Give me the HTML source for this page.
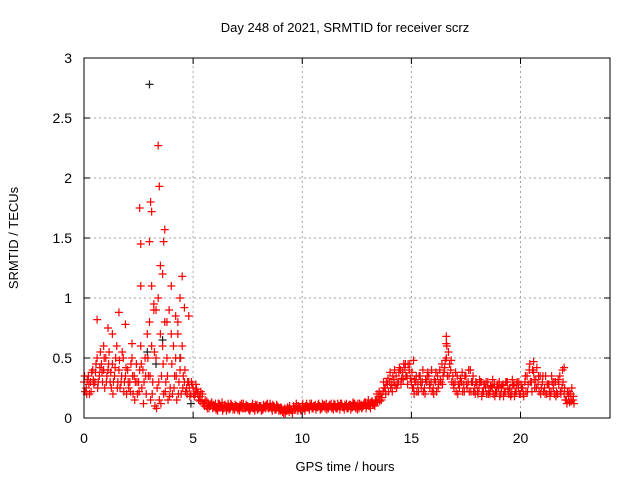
<!DOCTYPE html>
<html><head><meta charset="utf-8"><style>
body{margin:0;background:#fff}
svg{display:block;font-family:"Liberation Sans",sans-serif;font-size:13px}
</style></head><body>
<svg id="chart" width="640" height="480" viewBox="0 0 640 480">
<text x="345" y="32" text-anchor="middle" fill="#000">Day 248 of 2021, SRMTID for receiver scrz</text>
<text x="345" y="471" text-anchor="middle" fill="#000">GPS time / hours</text>
<text transform="translate(18,238) rotate(-90)" text-anchor="middle" fill="#000">SRMTID / TECUs</text>
<g id="grid"></g><g id="ticks"></g><g id="marks"></g>
<rect x="84" y="58" width="526" height="360" fill="none" stroke="#000" stroke-width="1"/>
</svg>
<script>
const tStart = 0, tStep = 0.1;
const seriesA = [0.3,0.25,0.35,0.3,0.4,0.3,0.5,0.35,0.45,0.4,
0.5,0.4,0.3,0.45,0.35,0.6,0.4,0.3,0.5,0.35,
0.4,0.3,0.5,0.35,0.45,0.3,0.6,0.4,0.5,0.7,
0.8,0.6,0.9,0.5,1.0,0.7,0.6,0.8,0.5,0.9,
0.7,0.6,0.5,0.8,0.4,0.6,0.3,0.25,0.3,0.2,
0.25,0.2,0.2,0.18,0.15,0.12,0.1,0.12,0.1,0.08,
0.1,0.08,0.12,0.1,0.08,0.1,0.12,0.08,0.1,0.07,
0.1,0.08,0.1,0.12,0.08,0.1,0.06,0.1,0.08,0.1,
0.08,0.1,0.07,0.1,0.12,0.09,0.08,0.1,0.07,0.09,
0.06,0.05,0.08,0.06,0.05,0.07,0.1,0.08,0.06,0.09,
0.1,0.08,0.12,0.09,0.1,0.08,0.11,0.09,0.1,0.08,
0.1,0.12,0.08,0.1,0.09,0.11,0.08,0.1,0.12,0.09,
0.1,0.08,0.11,0.09,0.12,0.1,0.08,0.11,0.1,0.13,
0.12,0.1,0.14,0.12,0.15,0.18,0.2,0.22,0.25,0.28,
0.3,0.28,0.32,0.35,0.3,0.4,0.38,0.42,0.35,0.4,
0.3,0.25,0.3,0.28,0.35,0.3,0.25,0.3,0.35,0.3,
0.25,0.3,0.35,0.4,0.45,0.38,0.5,0.55,0.4,0.35,
0.3,0.35,0.25,0.3,0.28,0.35,0.3,0.4,0.3,0.25,
0.28,0.25,0.3,0.22,0.25,0.3,0.2,0.25,0.28,0.22,
0.25,0.2,0.28,0.22,0.3,0.25,0.2,0.28,0.22,0.25,
0.2,0.25,0.3,0.35,0.4,0.3,0.38,0.32,0.28,0.35,
0.3,0.25,0.2,0.28,0.22,0.25,0.3,0.2,0.35,0.25,
0.2,0.15,0.18,0.2,0.15];
const seriesB = [0.22,0.32,0.2,0.38,0.28,0.45,0.3,0.55,0.3,0.25,
0.35,0.55,0.25,0.3,0.5,0.3,0.25,0.55,0.3,0.2,
0.25,0.45,0.2,0.3,0.2,0.4,0.25,0.3,0.2,0.35,
0.15,0.3,0.1,0.25,0.15,0.35,0.2,0.3,0.15,0.25,
0.2,0.35,0.15,0.3,0.2,0.35,0.22,0.3,0.18,0.28,
0.18,0.24,0.15,0.22,0.12,0.15,0.08,0.1,0.13,0.1,
0.07,0.12,0.09,0.06,0.11,0.08,0.07,0.11,0.09,0.1,
0.07,0.11,0.08,0.09,0.1,0.07,0.09,0.08,0.11,0.07,
0.1,0.07,0.09,0.11,0.08,0.1,0.11,0.07,0.1,0.08,
0.08,0.04,0.06,0.08,0.07,0.04,0.08,0.1,0.08,0.06,
0.08,0.1,0.09,0.12,0.08,0.1,0.09,0.12,0.08,0.11,
0.08,0.09,0.11,0.08,0.12,0.08,0.1,0.12,0.09,0.11,
0.08,0.11,0.09,0.12,0.08,0.12,0.1,0.09,0.13,0.1,
0.1,0.13,0.11,0.15,0.13,0.14,0.17,0.25,0.3,0.22,
0.25,0.35,0.27,0.28,0.42,0.33,0.45,0.35,0.45,0.33,
0.25,0.32,0.22,0.35,0.25,0.22,0.32,0.38,0.25,0.22,
0.32,0.22,0.28,0.3,0.35,0.48,0.35,0.45,0.3,0.25,
0.22,0.28,0.33,0.22,0.35,0.25,0.22,0.3,0.22,0.3,
0.2,0.3,0.22,0.28,0.2,0.22,0.27,0.2,0.22,0.28,
0.18,0.27,0.22,0.3,0.2,0.18,0.27,0.22,0.3,0.2,
0.25,0.18,0.22,0.28,0.3,0.4,0.25,0.42,0.22,0.25,
0.22,0.35,0.28,0.18,0.3,0.2,0.22,0.28,0.2,0.3,
0.15,0.22,0.13,0.25,0.12];
const seriesC = [0.35,0.2,0.28,0.22,0.32,0.38,0.25,0.42,0.38,0.5,
0.3,0.45,0.38,0.2,0.42,0.25,0.48,0.35,0.22,0.42,
0.3,0.22,0.35,0.15,0.3,0.22,0.45,0.12,0.35,0.5,
0.35,0.2,0.55,0.08,0.3,0.12,0.45,0.22,0.35,0.18,
0.45,0.25,0.35,0.2,0.5,0.25,0.4,0.2,0.25,0.3,
0.2,0.28,0.22,0.14,0.2,0.1,0.14,0.08,0.12,0.11,
0.12,0.06,0.1,0.13,0.09,0.06,0.1,0.12,0.07,0.11,
0.09,0.06,0.12,0.08,0.11,0.09,0.08,0.12,0.06,0.11,
0.1,0.06,0.11,0.08,0.09,0.12,0.06,0.09,0.11,0.06,
0.09,0.07,0.04,0.09,0.1,0.06,0.07,0.12,0.1,0.07,
0.12,0.06,0.1,0.07,0.12,0.1,0.07,0.11,0.07,0.12,
0.11,0.07,0.1,0.12,0.07,0.09,0.12,0.07,0.1,0.07,
0.12,0.1,0.07,0.13,0.1,0.07,0.12,0.08,0.12,0.08,
0.15,0.08,0.12,0.1,0.2,0.22,0.15,0.3,0.2,0.33,
0.38,0.22,0.4,0.25,0.38,0.28,0.32,0.45,0.28,0.45,
0.38,0.2,0.35,0.22,0.3,0.4,0.2,0.35,0.28,0.4,
0.2,0.38,0.25,0.32,0.28,0.42,0.6,0.35,0.48,0.28,
0.38,0.2,0.3,0.38,0.22,0.28,0.4,0.22,0.35,0.2,
0.22,0.32,0.18,0.28,0.3,0.2,0.26,0.32,0.18,0.26,
0.3,0.25,0.18,0.3,0.24,0.2,0.32,0.18,0.28,0.3,
0.28,0.2,0.35,0.22,0.45,0.22,0.32,0.25,0.35,0.2,
0.35,0.2,0.28,0.22,0.35,0.3,0.18,0.32,0.22,0.4,
0.25,0.12,0.22,0.14,0.18];
const spikeT = [3.4,3.45,3.05,3.1,2.55,2.6,3.7,3.65,3.5,3.6,4.0,4.5,4.4,3.0,3.1,2.6,3.2,1.6,0.6,1.1,4.8,4.3,3.8,16.6,16.6,15.1,20.6,22.0,1.3,0.9,2.2,1.9,3.3,4.6,4.2];
const spikeV = [2.27,1.93,1.8,1.72,1.75,1.45,1.57,1.47,1.27,1.2,1.1,1.18,1.0,1.47,1.1,1.1,0.95,0.88,0.82,0.75,0.85,0.7,0.8,0.68,0.62,0.48,0.47,0.42,0.7,0.6,0.62,0.78,0.9,0.92,0.85];
const darkT = [3.0,3.3,4.4,3.6,2.9,4.9];
const darkV = [2.78,0.45,0.5,0.65,0.55,0.12];
const xTicks = [0,5,10,15,20];
const yTicks = [0,0.5,1,1.5,2,2.5,3];
const yTickLabels = ["0","0.5","1","1.5","2","2.5","3"];

const X0=84,X1=610,Y0=418,Y1=58,XMAX=24.1,YMAX=3;
const xs = t => X0 + t/XMAX*(X1-X0);
const ys = v => Y0 - v/YMAX*(Y0-Y1);
const NS="http://www.w3.org/2000/svg";
const grid=document.getElementById('grid'), ticks=document.getElementById('ticks'), marks=document.getElementById('marks');
function mk(tag,attrs,parent){const e=document.createElementNS(NS,tag);for(const k in attrs)e.setAttribute(k,attrs[k]);parent.appendChild(e);return e;}
yTicks.forEach((v,i)=>{
  const y=ys(v);
  if(v>0&&v<YMAX){const g=mk('line',{x1:X0,x2:X1,y1:y,y2:y,stroke:'#a0a0a0','stroke-dasharray':'2,3'},grid);
  
  }
  mk('line',{x1:X0,x2:X0+6,y1:y,y2:y,stroke:'#000'},ticks);
  mk('line',{x1:X1,x2:X1-6,y1:y,y2:y,stroke:'#000'},ticks);
  const t=mk('text',{x:X0-12,y:y+5,'text-anchor':'end',fill:'#000','font-size':'14'},ticks);
  t.textContent=yTickLabels[i];
  
  
});
xTicks.forEach(v=>{
  const x=xs(v);
  if(v>0){const g=mk('line',{x1:x,x2:x,y1:Y0,y2:Y1,stroke:'#a0a0a0','stroke-dasharray':'2,3'},grid);
  
  }
  mk('line',{x1:x,x2:x,y1:Y0,y2:Y0-6,stroke:'#000'},ticks);
  mk('line',{x1:x,x2:x,y1:Y1,y2:Y1+6,stroke:'#000'},ticks);
  const t=mk('text',{x:x,y:Y0+25,'text-anchor':'middle',fill:'#000','font-size':'14'},ticks);
  t.textContent=String(v);
  
  
});
function plus(t,v,color){
  const x=xs(t),y=ys(v);
  const p=mk('path',{d:`M${x-4},${y}H${x+4}M${x},${y-4}V${y+4}`,stroke:color,'stroke-width':'1.2',fill:'none'},marks);
  
  
}
darkT.forEach((t,i)=>plus(t,darkV[i],'#222'));
seriesA.forEach((v,i)=>plus(tStart+i*tStep,v,'#ff0000'));
seriesB.forEach((v,i)=>plus(tStart+i*tStep+0.05,v,'#ff0000'));
seriesC.forEach((v,i)=>plus(tStart+i*tStep+0.025,v,'#ff0000'));
spikeT.forEach((t,i)=>plus(t,spikeV[i],'#ff0000'));
</script>
</body></html>
